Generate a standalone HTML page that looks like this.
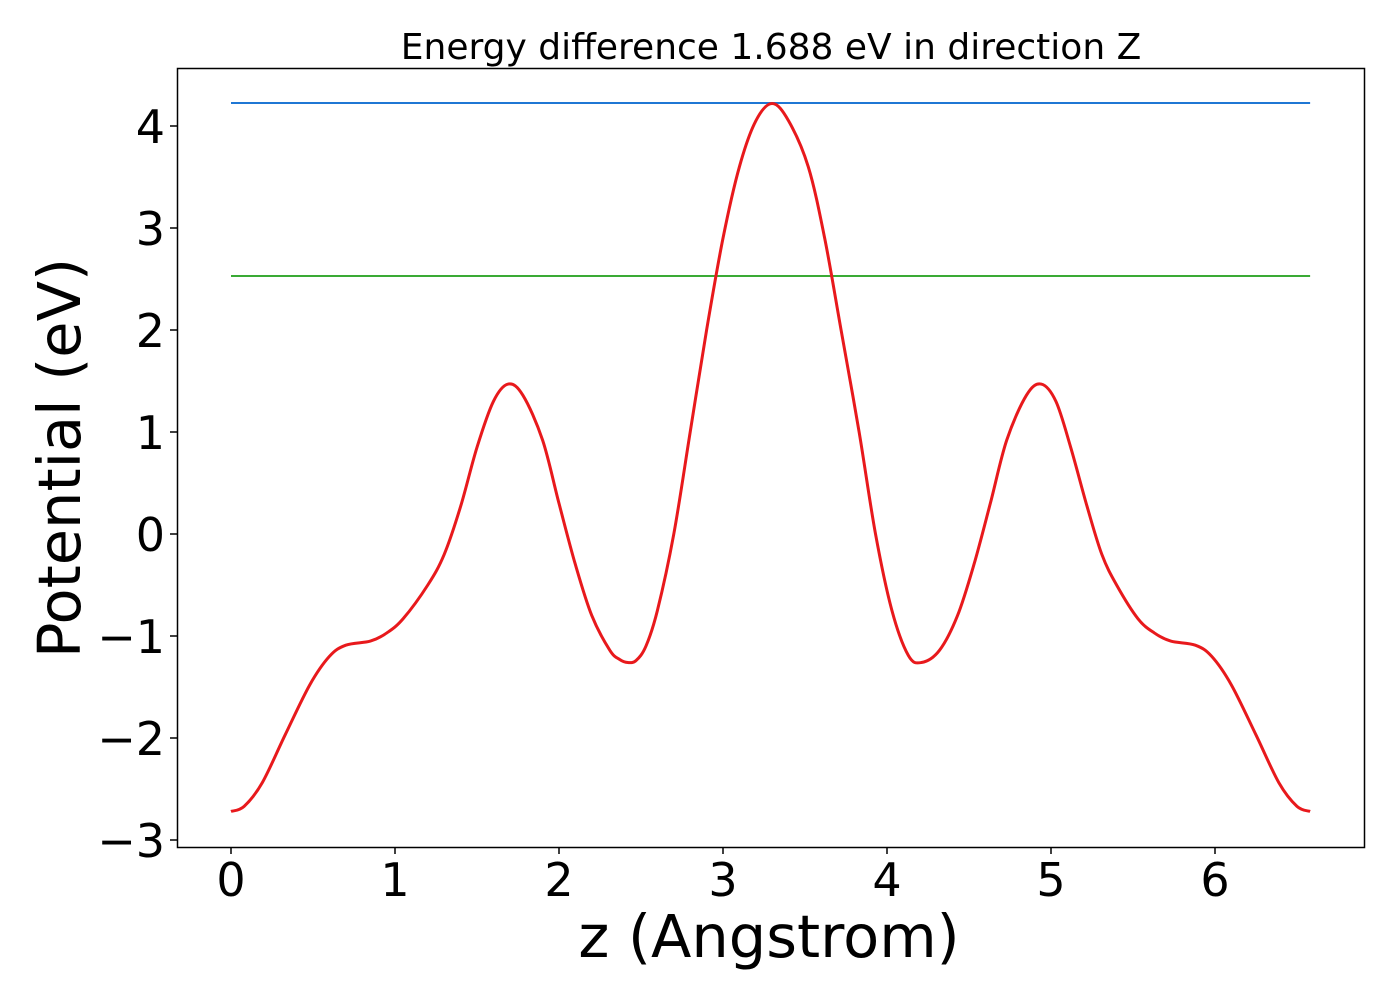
<!DOCTYPE html>
<html><head><meta charset="utf-8"><style>
html,body{margin:0;padding:0;background:#fff;}
svg{display:block;font-family:"DejaVu Sans","Liberation Sans",sans-serif;}
</style></head><body>
<svg id="chart" width="1400" height="1000">
<text x="771" y="59" font-size="36" text-anchor="middle">Energy difference 1.688 eV in direction Z</text>
<rect x="177.5" y="68.5" width="1187" height="779" fill="none" stroke="#000" stroke-width="1.5"/>
<g id="xticks"></g>
<g id="yticks"></g>
<g id="series"></g>
<text x="769" y="957" font-size="59" text-anchor="middle">z (Angstrom)</text>
<text transform="translate(80,458) rotate(-90)" font-size="59" text-anchor="middle">Potential (eV)</text>
</svg>
<script>
const xTicks=[0,1,2,3,4,5,6];
const yTicks=[4,3,2,1,0,-1,-2,-3];
const blueLevel=4.225;
const greenLevel=2.53;
const zVals=[0,0.08,0.19,0.33,0.48,0.6,0.7,0.85,0.95,1.05,1.2,1.3,1.4,1.5,1.6,1.69,1.78,1.9,2.0,2.1,2.2,2.31,2.37,2.42,2.47,2.53,2.6,2.7,2.8,2.9,3.0,3.1,3.2,3.3,
3.40,3.52,3.62,3.72,3.83,3.93,4.03,4.13,4.21,4.32,4.43,4.53,4.63,4.73,4.85,4.94,5.03,5.12,5.22,5.31,5.40,5.53,5.63,5.73,5.88,5.98,6.1,6.25,6.39,6.5,6.58];
const vVals=[-2.72,-2.67,-2.44,-1.97,-1.48,-1.2,-1.09,-1.05,-0.97,-0.83,-0.5,-0.2,0.27,0.85,1.3,1.47,1.36,0.92,0.3,-0.3,-0.8,-1.14,-1.23,-1.26,-1.24,-1.1,-0.75,0.0,1.0,2.0,2.9,3.6,4.05,4.22,
4.05,3.6,2.9,2.0,1.0,0.0,-0.75,-1.19,-1.26,-1.14,-0.8,-0.3,0.3,0.92,1.36,1.47,1.3,0.85,0.27,-0.2,-0.5,-0.83,-0.97,-1.05,-1.09,-1.2,-1.48,-1.97,-2.44,-2.67,-2.72];
const zMax=6.58;
const NS="http://www.w3.org/2000/svg";
function sx(z){return 231+164*z;}
function sy(v){return 534-102*v;}
function mk(tag,attrs,parent){const e=document.createElementNS(NS,tag);for(const k in attrs)e.setAttribute(k,attrs[k]);parent.appendChild(e);return e;}
const gx=document.getElementById('xticks');
xTicks.forEach(t=>{
 const l=mk('line',{x1:sx(t),x2:sx(t),y1:847,y2:854,stroke:'#000','stroke-width':1.5},gx);
 
 
 const tx=mk('text',{x:sx(t),y:896,'font-size':46,'text-anchor':'middle'},gx);
 tx.textContent=String(t);
 
 
});
const gy=document.getElementById('yticks');
yTicks.forEach(t=>{
 const l=mk('line',{x1:170,x2:177,y1:sy(t),y2:sy(t),stroke:'#000','stroke-width':1.5},gy);
 
 
 const tx=mk('text',{x:165,y:sy(t)+17,'font-size':46,'text-anchor':'end'},gy);
 tx.textContent=(t<0?'\u2212':'')+Math.abs(t);
 
 
});
const gs=document.getElementById('series');
const bl=mk('line',{x1:sx(0),x2:sx(zMax),y1:sy(blueLevel),y2:sy(blueLevel),stroke:'#1f77d4','stroke-width':2},gs);


const gl=mk('line',{x1:sx(0),x2:sx(zMax),y1:sy(greenLevel),y2:sy(greenLevel),stroke:'#3aaa35','stroke-width':2},gs);


const pts=zVals.map((z,i)=>[sx(z),sy(vVals[i])]);
let d='M'+pts[0][0]+','+pts[0][1];
for(let i=0;i<pts.length-1;i++){
 const p0=pts[Math.max(0,i-1)],p1=pts[i],p2=pts[i+1],p3=pts[Math.min(pts.length-1,i+2)];
 const c1x=p1[0]+(p2[0]-p0[0])/6,c1y=p1[1]+(p2[1]-p0[1])/6;
 const c2x=p2[0]-(p3[0]-p1[0])/6,c2y=p2[1]-(p3[1]-p1[1])/6;
 d+=' C'+c1x+','+c1y+' '+c2x+','+c2y+' '+p2[0]+','+p2[1];
}
const cv=mk('path',{d:d,fill:'none',stroke:'#e8191c','stroke-width':3},gs);


</script>
</body></html>
